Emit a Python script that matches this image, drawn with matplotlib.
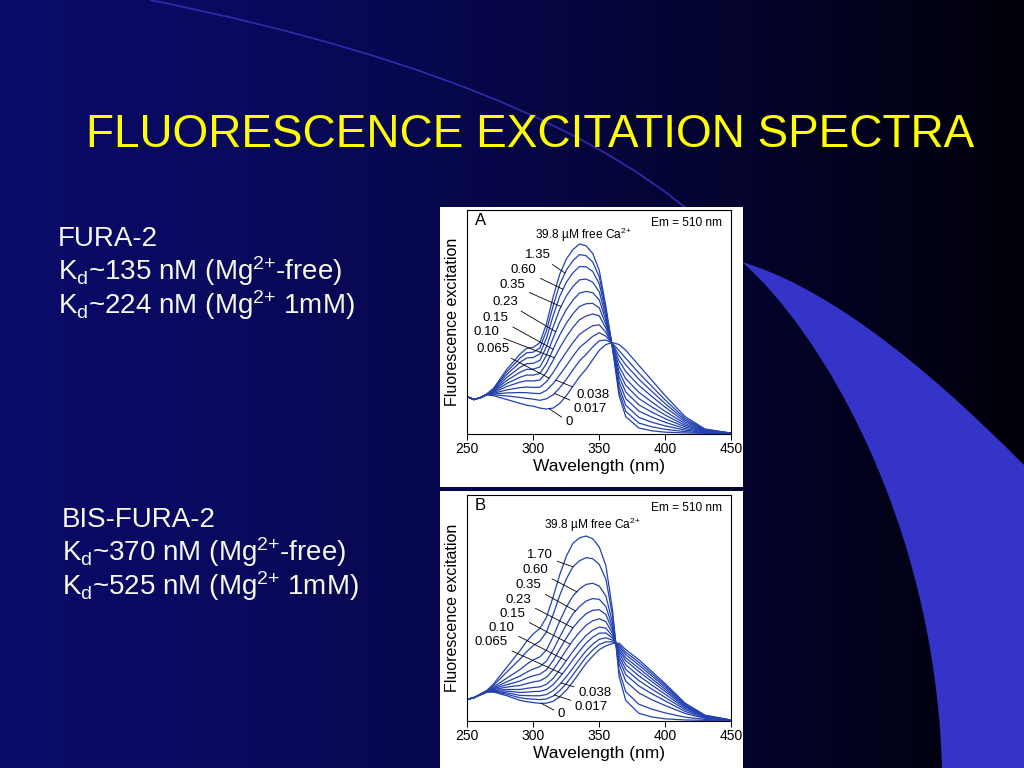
import numpy as np
import matplotlib
matplotlib.use("Agg")
import matplotlib.pyplot as plt
from matplotlib.path import Path
from matplotlib.patches import PathPatch, Rectangle

plt.rcParams['font.family'] = ['Liberation Sans', 'DejaVu Sans']
plt.rcParams['mathtext.fontset'] = 'custom'
plt.rcParams['mathtext.rm'] = 'Liberation Sans'
plt.rcParams['mathtext.it'] = 'Liberation Sans:italic'
plt.rcParams['mathtext.bf'] = 'Liberation Sans:bold'

# wavelength grid (nm) used for both panels
WL = [250, 255, 260, 265, 270, 280, 290, 295, 300, 305, 310, 315, 320, 325, 330,
      335, 340, 345, 350, 355, 360, 365, 370, 380, 390, 400, 415, 430, 450]

#free Ca2+ (uM) for panel A (fura-2), lowest to highest
CONC_A = ['0', '0.017', '0.038', '0.065', '0.10', '0.15', '0.23', '0.35', '0.60', '1.35', '39.8']
SPEC_A = [
    [19.5, 18, 19, 20.5, 20, 18, 16, 15, 14.5, 13.5, 13, 13.5, 16, 20, 25, 30, 34, 39, 44, 47, 48, 47, 44, 36, 28, 20, 9, 2.5, 0.3],
    [19.5, 18, 19, 20.6, 20.5, 19.9, 19.1, 18.6, 18.2, 17.6, 18.4, 20.5, 24.2, 28.6, 33.6, 38.4, 41.8, 45.7, 49.0, 49.4, 47.6, 43.8, 39.8, 32.0, 24.8, 17.7, 8.0, 2.2, 0.3],
    [19.5, 18, 19, 20.6, 20.9, 21.5, 21.7, 21.6, 21.3, 21.1, 22.9, 26.4, 31.0, 35.8, 40.8, 45.4, 48.3, 51.3, 53.2, 51.4, 47.3, 41.1, 36.3, 28.7, 22.2, 15.8, 7.1, 2.0, 0.2],
    [19.5, 18, 19, 20.7, 21.3, 23.1, 24.3, 24.6, 24.4, 24.5, 27.4, 32.2, 37.8, 43.0, 48.0, 52.4, 54.8, 56.9, 57.4, 53.4, 47.0, 38.4, 32.8, 25.4, 19.5, 13.9, 6.2, 1.8, 0.2],
    [19.5, 18, 19, 20.7, 21.7, 24.9, 27.2, 27.9, 27.8, 28.3, 32.4, 38.7, 45.2, 51.0, 56.0, 60.1, 62.0, 63.1, 62.1, 55.6, 46.7, 35.4, 29.0, 21.8, 16.6, 11.7, 5.3, 1.5, 0.2],
    [19.5, 18, 19, 20.8, 22.1, 26.5, 29.8, 30.9, 30.9, 31.8, 36.9, 44.5, 52.0, 58.2, 63.2, 67.1, 68.5, 68.7, 66.3, 57.6, 46.4, 32.7, 25.5, 18.5, 14.0, 9.8, 4.4, 1.3, 0.1],
    [19.5, 18, 19, 20.8, 22.5, 28.1, 32.4, 33.9, 34.0, 35.2, 41.4, 50.4, 58.8, 65.4, 70.4, 74.1, 75.0, 74.3, 70.5, 59.6, 46.1, 30.0, 22.0, 15.2, 11.3, 7.9, 3.6, 1.1, 0.1],
    [19.5, 18, 19, 20.9, 22.9, 29.7, 35.0, 36.9, 37.1, 38.7, 45.9, 56.2, 65.6, 72.6, 77.6, 81.1, 81.5, 79.9, 74.7, 61.6, 45.8, 27.3, 18.5, 11.9, 8.7, 6.0, 2.7, 0.8, 0.1],
    [19.5, 18, 19, 20.9, 23.3, 31.3, 37.6, 39.9, 40.2, 42.1, 50.4, 62.1, 72.4, 79.8, 84.8, 88.1, 88.0, 85.5, 78.9, 63.6, 45.5, 24.6, 15.0, 8.6, 6.0, 4.1, 1.9, 0.6, 0.05],
    [19.5, 18, 19, 21.0, 23.7, 32.7, 39.9, 42.6, 43.0, 45.2, 54.4, 67.3, 78.6, 86.2, 91.2, 94.4, 93.8, 90.5, 82.6, 65.4, 45.2, 22.2, 11.8, 5.6, 3.6, 2.3, 1.1, 0.4, 0],
    [19.5, 18, 19, 21, 24, 34, 42, 45, 45.5, 48, 58, 72, 84, 92, 97, 100, 99, 95, 86, 67, 45, 20, 9, 3, 1.5, 0.8, 0.4, 0.2, 0],
]

#panel B (bis-fura-2)
CONC_B = ['0', '0.017', '0.038', '0.065', '0.10', '0.15', '0.23', '0.35', '0.60', '1.70', '39.8']
SPEC_B = [
    [11.5, 12.5, 14, 15.5, 15.5, 13.5, 11, 10.3, 9.8, 9.4, 9.5, 10.5, 13, 16.5, 21, 26, 31, 35, 38.5, 40.5, 41.8, 42, 38.5, 33, 26.5, 20, 9.5, 3, 0.3],
    [11.5, 12.5, 14.0, 15.6, 15.7, 14.3, 12.4, 11.9, 11.7, 11.4, 11.8, 13.3, 16.3, 20.1, 24.8, 29.7, 34.5, 38.2, 41.3, 42.7, 42.7, 41.1, 37.1, 31.6, 25.3, 19.1, 9.0, 2.9, 0.3],
    [11.5, 12.5, 14.1, 15.6, 16.0, 15.1, 13.7, 13.6, 13.5, 13.5, 14.2, 16.2, 19.6, 23.8, 28.5, 33.3, 37.9, 41.4, 44.1, 44.9, 43.6, 40.2, 35.8, 30.1, 24.1, 18.1, 8.6, 2.7, 0.3],
    [11.5, 12.5, 14.1, 15.7, 16.2, 16.0, 15.3, 15.5, 15.8, 15.9, 16.9, 19.5, 23.6, 28.1, 33.0, 37.7, 42.0, 45.2, 47.4, 47.5, 44.7, 39.1, 34.1, 28.4, 22.6, 17.0, 8.0, 2.6, 0.3],
    [11.5, 12.5, 14.1, 15.7, 16.5, 16.9, 16.9, 17.5, 18.0, 18.3, 19.7, 22.9, 27.5, 32.5, 37.5, 42.1, 46.2, 49.0, 50.7, 50.1, 45.8, 38.0, 32.5, 26.6, 21.1, 15.8, 7.5, 2.4, 0.2],
    [11.5, 12.5, 14.2, 15.8, 16.9, 18.2, 19.1, 20.1, 21.0, 21.6, 23.5, 27.5, 32.8, 38.3, 43.5, 47.9, 51.7, 54.1, 55.2, 53.6, 47.3, 36.6, 30.3, 24.3, 19.2, 14.3, 6.8, 2.2, 0.2],
    [11.5, 12.5, 14.2, 15.9, 17.3, 19.5, 21.5, 23.1, 24.3, 25.2, 27.6, 32.5, 38.7, 44.8, 50.3, 54.5, 57.9, 59.8, 60.1, 57.5, 48.9, 35.0, 27.8, 21.7, 17.0, 12.6, 6.0, 1.9, 0.2],
    [11.5, 12.5, 14.2, 16.0, 17.7, 21.1, 24.2, 26.3, 28.0, 29.3, 32.3, 38.2, 45.3, 52.0, 57.8, 61.8, 64.8, 66.1, 65.7, 61.8, 50.7, 33.2, 25.0, 18.8, 14.5, 10.7, 5.0, 1.6, 0.2],
    [11.5, 12.5, 14.3, 16.1, 18.3, 23.1, 27.7, 30.6, 32.9, 34.6, 38.3, 45.5, 53.9, 61.5, 67.5, 71.3, 73.8, 74.4, 72.9, 67.5, 53.1, 30.8, 21.4, 15.0, 11.3, 8.2, 3.9, 1.3, 0.1],
    [11.5, 12.5, 14.4, 16.3, 19.2, 26.4, 33.4, 37.4, 40.7, 43.1, 48.1, 57.4, 67.8, 76.7, 83.3, 86.6, 88.3, 87.7, 84.6, 76.6, 56.9, 27.1, 15.7, 8.9, 6.2, 4.2, 1.9, 0.7, 0.05],
    [11.5, 12.5, 14.5, 16.5, 20, 29, 38, 43, 47, 50, 56, 67, 79, 89, 96, 99, 100, 98.5, 94, 84, 60, 24, 11, 4, 2, 1, 0.4, 0.2, 0],
]

XTICKS = [250, 300, 350, 400, 450]

#label placement: (text x, text y, wavelength the leader points at, alignment)
LAYOUT_A = [(324.5, 6.0, 312, 'left'), (330.8, 13.0, 316, 'left'), (332.6, 20.4, 317, 'left'),
            (282.1, 44.7, 312, 'right'), (274.5, 53.8, 316, 'right'), (281.4, 61.2, 315, 'right'),
            (288.4, 69.6, 317, 'right'), (293.9, 78.4, 321, 'right'), (302.3, 86.2, 322.5, 'right'),
            (313.6, 94.2, 324, 'right')]
LAYOUT_B = [(318.7, 3.5, 306, 'left'), (331.4, 7.5, 316, 'left'), (333.9, 15.0, 321, 'left'),
            (280.8, 42.8, 322, 'right'), (285.9, 50.4, 325, 'right'), (293.9, 58.0, 328, 'right'),
            (298.5, 65.6, 330, 'right'), (306.0, 73.5, 332, 'right'), (311.1, 81.6, 333, 'right'),
            (315.0, 89.7, 330, 'right')]

LINE_COLOR = '#2341b0'
TEXT_COLOR = '#f7f7ea'


def draw_background(fig):
    bg = fig.add_axes([0, 0, 1, 1])
    bg.set_xlim(0, 1024)
    bg.set_ylim(768, 0)
    bg.axis('off')
    #horizontal navy -> black gradient
    t = np.linspace(0, 1, 512) ** 1.5
    left = np.array([0.04, 0.04, 0.41])
    right = np.array([0.0, 0.0, 0.03])
    row = left[None, :] * (1 - t[:, None]) + right[None, :] * t[:, None]
    img = np.repeat(row[None, :, :], 2, axis=0)
    bg.imshow(img, extent=(0, 1024, 768, 0), aspect='auto', zorder=0)

    #thin arc
    arc = Path([(150, 0), (594, 89), (742, 262)], [Path.MOVETO, Path.CURVE3, Path.CURVE3])
    bg.add_patch(PathPatch(arc, fill=False, edgecolor='#2b2ba6', lw=1.3, zorder=1))

    #blue swoosh
    verts = [(742, 262), (820, 330), (935, 520), (942, 768), (1024, 768), (1024, 465),
             (857, 296), (742, 262), (742, 262)]
    codes = [Path.MOVETO, Path.CURVE4, Path.CURVE4, Path.CURVE4, Path.LINETO, Path.LINETO,
             Path.CURVE3, Path.CURVE3, Path.CLOSEPOLY]
    bg.add_patch(PathPatch(Path(verts, codes), facecolor='#3434c8', edgecolor='none', zorder=2))

    #white panels behind the two charts
    bg.add_patch(Rectangle((440, 207), 303, 280, facecolor='white', edgecolor='none', zorder=3))
    bg.add_patch(Rectangle((440, 491), 303, 277, facecolor='white', edgecolor='none', zorder=3))
    return bg


def plot_panel(ax, spectra, conc, layout, letter, ytop, ca_x, ca_y):
    for curve in spectra:
        ax.plot(WL, curve, color=LINE_COLOR, lw=0.9)
    ax.set_xlim(250, 450)
    ax.set_ylim(0, ytop)
    ax.set_xticks(XTICKS)
    ax.set_yticks([])
    ax.tick_params(axis='x', direction='out', length=4, width=0.7, labelsize=10, pad=2)
    for s in ax.spines.values():
        s.set_linewidth(0.8)
    ax.set_xlabel('Wavelength (nm)', fontsize=12.5, labelpad=2)
    ax.set_ylabel('Fluorescence excitation', fontsize=11.5, labelpad=5)

    #concentration labels with leader lines
    for i, (tx, ty, lam, ha) in enumerate(layout):
        yy = np.interp(lam, WL, spectra[i])
        ax.annotate(conc[i], xy=(lam, yy), xytext=(tx, ty), ha=ha, va='center', fontsize=9.5,
                    arrowprops=dict(arrowstyle='-', lw=0.6, color='black', shrinkA=1, shrinkB=0))

    ax.text(ca_x, ca_y, conc[-1] + r' µM free Ca$^{\text{2+}}$', ha='center', va='center', fontsize=8.6)
    ax.text(415.9, ytop - 7, 'Em = 510 nm', ha='center', va='center', fontsize=8.6)
    ax.text(255.5, ytop - 5.5, letter, ha='left', va='center', fontsize=12, fontweight='light')


def main():
    fig = plt.figure(figsize=(10.24, 7.68), dpi=100)
    draw_background(fig)

    fig.text(530 / 1024, 1 - 135 / 768, 'FLUORESCENCE EXCITATION SPECTRA', ha='center', va='center',
             fontsize=33, color='#ffff00')

    lines_a = ['FURA-2', r'K$_\mathrm{d}$~135 nM (Mg$^{\text{2+}}$-free)', r'K$_\mathrm{d}$~224 nM (Mg$^{\text{2+}}$ 1mM)']
    lines_b = ['BIS-FURA-2', r'K$_\mathrm{d}$~370 nM (Mg$^{\text{2+}}$-free)', r'K$_\mathrm{d}$~525 nM (Mg$^{\text{2+}}$ 1mM)']
    for i, s in enumerate(lines_a):
        fig.text(58 / 1024, 1 - (246 + 34 * i) / 768, s, ha='left', va='baseline', fontsize=20, color=TEXT_COLOR)
    for i, s in enumerate(lines_b):
        fig.text(62 / 1024, 1 - (527 + 34 * i) / 768, s, ha='left', va='baseline', fontsize=20, color=TEXT_COLOR)

    ax_a = fig.add_axes([467.3 / 1024, 1 - 433.7 / 768, 264 / 1024, 223.7 / 768])
    plot_panel(ax_a, SPEC_A, CONC_A, LAYOUT_A, 'A', 117.9, 338.0, 104.7)

    ax_b = fig.add_axes([467.3 / 1024, 1 - 720.7 / 768, 264 / 1024, 225.7 / 768])
    plot_panel(ax_b, SPEC_B, CONC_B, LAYOUT_B, 'B', 122.2, 345.0, 106.0)

    fig.savefig('out.png', dpi=100)


if __name__ == '__main__':
    main()
